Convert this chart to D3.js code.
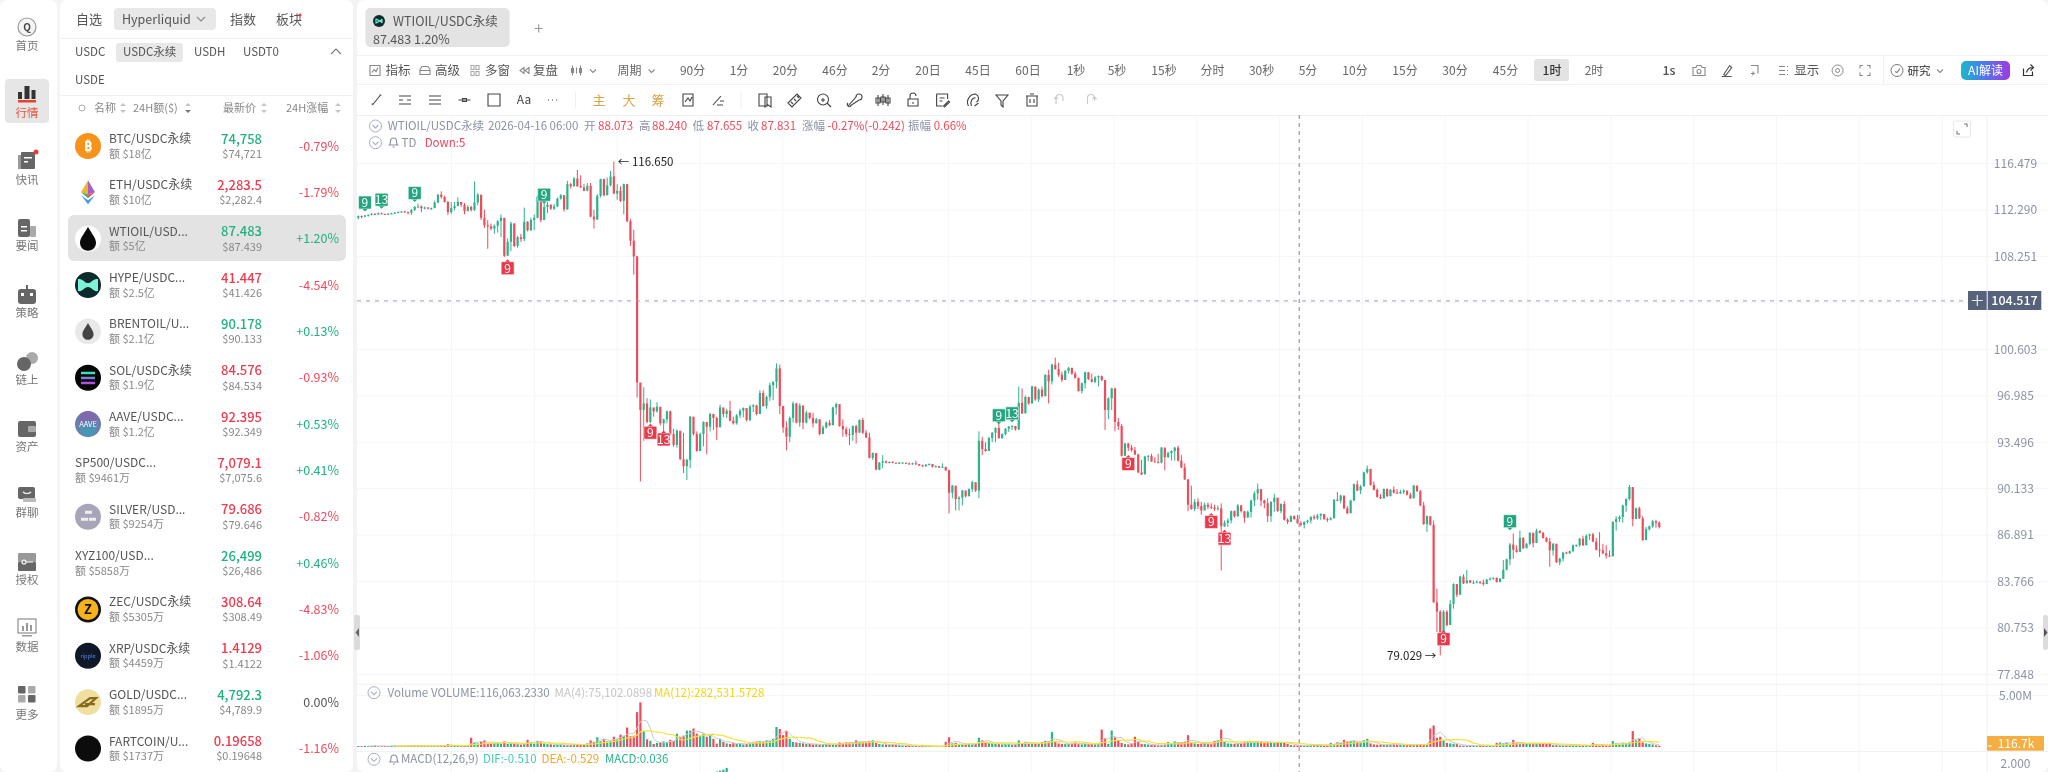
<!DOCTYPE html>
<html>
<head>
<meta charset="utf-8">
<script src="https://cdn.jsdelivr.net/npm/d3@7"></script>
<style>
  html, body { margin: 0; padding: 0; background: #f3f3f3; overflow: hidden; }
  svg { display: block; font-family: "Noto Sans CJK SC", "Noto Sans", sans-serif; filter: blur(0.35px); }
</style>
</head>
<body>
<script>
/* Datos de las velas, 1h WTIOIL */
const firstOpen = 111.6;
const closes = [
  111.75,111.7,111.8,111.85,111.95,111.9,112.0,111.95,111.9,111.95,
  112.0,112.05,112.1,112.15,112.1,112.05,112.3,112.55,112.6,112.45,
  112.5,112.4,112.45,112.95,113.65,113.45,113.0,112.1,112.45,112.65,
  113.0,112.75,112.2,112.55,112.3,112.95,113.65,111.6,110.95,110.85,
  110.65,110.9,111.3,111.6,108.3,109.5,111.1,109.15,109.9,109.75,
  111.25,110.5,111.4,111.6,113.5,111.4,112.55,112.75,112.4,112.6,
  113.3,113.6,112.35,114.6,114.4,115.1,114.4,114.3,114.0,114.45,
  111.7,111.45,113.55,115.05,113.6,114.5,115.3,113.75,114.0,113.1,
  114.6,111.3,109.6,108.25,98.0,95.9,96.4,95.0,96.1,95.8,
  96.15,94.9,95.2,95.8,94.1,93.3,94.35,92.25,91.75,92.2,
  95.4,94.1,92.85,94.1,95.0,94.65,95.6,95.3,94.6,96.1,
  95.6,95.85,95.1,94.9,95.5,95.85,96.05,95.15,96.15,96.25,
  95.6,97.2,96.2,96.9,97.8,98.05,99.1,96.2,94.6,93.9,
  95.3,96.4,94.95,96.25,94.95,95.7,95.3,94.9,95.2,94.1,
  94.6,94.95,94.75,96.1,96.35,94.7,94.45,94.1,94.05,94.7,
  94.2,95.15,94.2,93.85,92.35,92.7,91.5,92.0,92.1,92.0,
  92.05,92.0,91.95,92.0,92.0,91.95,91.9,91.95,91.9,91.8,
  91.75,91.85,91.9,91.7,91.75,91.65,91.7,91.45,89.85,90.35,
  89.4,89.5,90.0,89.6,90.1,90.6,90.0,93.6,93.0,92.85,
  93.8,94.2,94.55,93.8,94.1,94.5,94.65,94.7,94.45,96.45,
  95.65,96.9,96.4,97.7,96.7,97.45,96.95,98.6,98.1,99.4,
  99.05,98.6,98.2,98.9,99.15,98.7,98.35,97.35,97.95,98.8,
  98.25,98.05,98.4,98.5,98.2,95.9,96.8,97.55,95.0,94.7,
  92.5,93.4,93.1,92.9,92.6,91.3,91.15,92.45,92.5,92.1,
  92.05,92.0,93.1,92.4,92.7,92.85,93.1,92.15,91.65,90.8,
  89.0,88.7,89.2,88.9,88.6,89.0,88.85,88.8,88.7,88.75,
  87.5,87.75,87.9,88.55,88.2,88.95,88.55,88.1,88.5,89.3,
  89.8,90.1,89.3,89.1,88.2,89.2,89.5,88.55,89.05,87.95,
  87.8,88.2,88.0,87.7,87.6,87.8,87.9,88.15,88.05,88.25,
  88.35,88.0,87.95,88.05,89.35,89.3,89.65,88.75,88.4,89.3,
  90.45,90.0,90.3,91.3,91.55,90.4,90.05,89.55,89.45,90.1,
  89.6,90.05,89.85,89.8,89.9,90.0,89.7,89.45,90.35,89.95,
  88.95,87.65,88.2,87.6,82.4,81.8,80.1,81.8,80.95,82.3,
  83.6,82.9,84.1,83.65,83.85,83.7,83.7,83.75,83.7,83.6,
  83.9,83.95,84.0,83.75,83.95,84.55,85.25,86.25,85.9,85.75,
  86.7,86.0,86.3,87.05,86.35,87.2,87.05,86.7,86.45,85.85,
  86.3,85.05,85.3,85.7,85.65,85.8,86.2,86.2,86.65,86.2,
  86.85,86.95,86.45,85.9,85.85,85.65,85.5,85.45,87.8,88.0,
  88.15,88.95,89.4,90.25,88.0,88.75,88.05,86.55,87.3,87.5,
  87.85,87.75,87.45
];
const highs = [
  111.8,111.8,111.85,111.9,112.0,112.0,112.05,112.05,111.95,112.0,
  112.05,112.1,112.15,112.2,112.2,112.15,112.35,112.65,112.85,112.7,
  112.6,112.55,112.5,113.1,113.7,113.95,113.55,113.1,113.0,113.0,
  113.4,113.0,112.9,112.7,112.65,114.85,113.8,113.6,112.3,111.4,
  111.1,111.0,111.4,111.9,110.9,109.8,111.25,111.1,110.0,110.2,
  112.5,111.3,111.6,111.9,113.6,113.6,112.9,113.0,112.8,112.8,
  113.4,113.7,113.6,114.9,114.7,115.25,115.9,115.4,114.6,114.7,
  114.7,112.3,113.7,115.1,115.1,115.2,115.8,116.65,114.6,114.4,
  114.65,114.4,111.5,110.55,108.3,97.95,97.63,96.8,96.7,95.95,
  96.5,96.0,95.25,95.85,95.85,94.5,94.45,94.05,94.2,92.3,
  95.45,95.3,94.3,94.2,95.05,94.8,95.7,95.5,95.4,96.3,
  96.0,96.0,96.6,95.4,95.6,96.0,96.1,95.9,96.3,96.35,
  96.3,97.4,97.4,97.0,98.0,98.1,99.5,99.4,96.2,95.05,
  95.42,96.55,96.45,96.4,96.1,95.85,95.7,95.7,95.3,95.2,
  94.75,95.05,95.15,96.15,96.45,96.3,95.2,94.65,94.5,94.75,
  94.8,95.2,95.3,94.4,94.2,92.75,92.6,92.05,92.55,92.15,
  92.1,92.1,92.0,92.05,92.05,92.0,92.0,92.0,92.15,91.9,
  91.85,91.9,91.95,91.9,91.8,91.75,91.95,91.65,91.5,90.4,
  89.9,89.6,90.05,90.0,90.15,90.7,90.4,94.3,93.9,93.5,
  93.9,94.25,94.6,94.9,94.15,94.55,94.7,94.75,94.7,97.7,
  97.55,97.0,96.85,97.75,97.65,97.55,97.7,98.65,99.0,99.45,
  99.95,99.55,98.85,98.98,99.2,99.05,98.85,98.4,98.0,98.85,
  98.8,98.7,98.5,98.55,98.55,98.2,96.85,97.6,97.6,95.3,
  94.85,93.45,93.45,93.3,93.15,92.65,92.2,92.5,92.55,92.65,
  92.4,92.65,93.15,93.1,92.8,92.9,93.15,93.25,92.55,91.95,
  90.8,90.35,89.4,89.45,89.2,89.15,89.15,89.1,89.0,88.95,
  89.1,87.9,88.05,88.6,88.6,89.05,89.0,88.55,88.6,89.35,
  89.95,90.5,90.1,89.35,89.45,89.25,89.78,89.3,89.1,89.25,
  88.05,88.25,88.25,88.3,87.85,87.85,87.95,88.2,88.3,88.35,
  88.4,88.3,88.1,88.15,89.4,89.9,89.7,89.55,88.9,89.35,
  90.5,90.72,90.4,91.35,91.8,91.55,90.65,90.15,89.75,90.15,
  90.15,90.1,90.3,90.1,90.05,90.1,89.95,89.85,90.4,90.35,
  90.05,89.2,88.25,88.1,87.9,83.3,81.9,81.9,81.9,82.55,
  83.65,83.5,84.15,84.25,84.55,83.85,83.85,83.85,83.8,83.9,
  83.95,84.05,84.05,84.05,84.0,85.2,85.3,86.35,87.0,86.2,
  87.2,86.75,86.35,87.1,87.05,87.33,87.2,87.1,86.75,86.7,
  86.35,86.3,85.35,85.75,85.77,85.85,86.25,86.25,86.7,86.85,
  86.95,87.0,87.05,86.7,87.1,86.3,86.2,85.85,87.85,88.2,
  88.25,89.0,89.45,90.4,90.2,88.8,88.85,88.2,87.45,87.55,
  87.95,87.95,87.85
];
const lows = [
  111.45,111.55,111.65,111.7,111.8,111.85,111.85,111.9,111.85,111.85,
  111.9,111.95,112.0,112.05,112.05,111.9,111.85,112.2,112.45,112.1,
  112.35,112.35,112.3,112.55,112.9,113.3,112.95,111.85,111.95,112.25,
  112.6,112.55,111.9,112.15,112.15,112.2,112.7,111.4,110.7,108.9,
  110.5,110.2,110.3,109.9,108.2,108.55,108.7,109.05,109.0,109.5,
  109.55,110.4,110.45,110.5,111.55,111.2,111.4,112.0,112.3,112.3,
  112.55,113.2,112.15,112.3,114.2,114.4,114.35,114.25,113.95,113.95,
  111.65,110.65,111.4,113.4,113.5,113.6,114.4,113.7,113.2,113.0,
  111.9,111.2,109.15,106.7,96.85,90.65,93.6,94.9,94.9,95.4,
  95.7,94.75,94.3,94.9,94.05,93.15,93.1,92.2,91.25,90.75,
  91.6,94.0,92.8,93.3,93.2,92.6,94.3,94.4,93.65,94.7,
  95.35,95.3,95.05,94.8,94.8,95.3,95.35,95.05,95.05,95.75,
  95.5,95.75,96.15,96.0,96.6,96.65,97.55,95.6,94.2,92.9,
  93.5,94.95,94.9,94.65,94.45,94.9,95.2,94.6,94.9,94.0,
  94.1,94.5,94.7,94.9,95.55,94.65,93.9,93.9,93.28,93.6,
  93.4,94.2,94.1,93.8,92.3,92.2,91.45,91.45,91.6,91.95,
  91.95,91.95,91.9,91.9,91.95,91.9,91.85,91.85,91.85,91.75,
  91.7,91.7,91.8,91.65,91.65,91.6,91.6,91.4,88.4,89.45,
  88.6,88.6,88.95,89.5,89.6,89.9,89.9,89.45,92.55,92.8,
  92.85,93.5,93.5,93.75,93.75,94.0,94.25,94.4,94.35,94.4,
  95.6,95.65,96.3,96.4,96.6,96.5,96.85,96.95,96.4,97.85,
  99.0,98.45,98.05,98.2,98.7,98.6,98.3,97.3,97.15,97.55,
  98.2,98.0,97.95,97.7,98.1,94.4,95.2,95.9,94.3,94.4,
  92.45,92.5,92.85,92.8,92.55,91.25,91.1,91.2,92.1,92.05,
  92.0,91.95,91.95,91.45,92.35,92.15,92.15,92.1,91.6,90.75,
  88.55,88.65,88.55,88.7,88.3,88.6,88.7,88.7,88.55,88.6,
  84.5,87.45,87.45,87.7,88.1,88.15,88.45,87.75,88.1,88.1,
  88.9,89.35,88.9,88.75,87.8,87.8,88.5,88.5,88.4,87.9,
  87.65,87.8,87.95,87.7,87.5,87.35,87.7,87.7,87.95,87.95,
  87.95,87.95,87.8,87.9,88.05,89.25,89.1,88.7,88.35,88.45,
  89.25,89.95,89.75,90.3,91.2,90.35,90.0,89.5,89.4,89.45,
  89.55,89.6,89.8,89.75,89.75,89.75,89.65,89.4,89.45,89.9,
  88.9,87.6,87.1,87.55,82.4,80.5,79.03,80.1,80.85,80.95,
  82.0,82.75,82.9,83.6,83.65,83.65,83.6,83.65,83.6,83.5,
  83.6,83.85,83.9,83.7,83.7,83.95,84.5,84.85,85.3,85.7,
  85.75,85.95,86.0,86.2,86.05,86.35,87.0,86.65,86.4,84.75,
  85.5,85.0,84.85,85.1,85.6,85.6,85.75,86.1,86.1,86.15,
  86.2,86.55,86.4,85.85,85.4,85.6,85.3,85.4,85.45,87.2,
  87.8,87.75,88.5,89.3,87.5,88.0,88.0,86.5,86.55,87.2,
  87.4,87.4,87.35
];
const volumes = [
  100,80,120,90,100,130,90,80,100,90,
  110,120,80,100,90,110,130,150,120,100,
  110,90,120,100,140,170,150,280,150,120,
  100,110,130,120,900,450,350,500,650,400,
  350,380,400,300,550,300,350,300,280,250,
  320,700,450,300,600,550,350,280,260,220,
  200,240,180,180,200,250,280,200,240,350,
  650,500,950,550,800,550,600,1000,800,1200,
  1100,1900,1050,1100,3400,4350,1550,750,600,300,
  400,450,550,450,700,600,1300,1000,1100,1600,
  1600,1800,1300,1100,1300,1000,1150,800,330,800,
  500,350,300,400,300,350,250,300,400,500,
  550,600,500,650,600,800,1950,1750,1150,1550,
  800,500,450,400,350,300,300,250,280,250,
  260,280,250,260,280,450,400,450,420,450,
  650,500,480,500,600,650,400,300,260,250,
  240,220,200,180,150,130,100,100,110,90,
  100,90,80,60,40,60,80,500,950,350,
  400,300,280,260,320,260,300,900,650,500,
  400,350,300,280,260,300,280,220,260,650,
  320,500,400,380,350,300,500,600,550,1450,
  500,350,300,280,300,320,450,280,260,300,
  300,320,280,300,1700,850,300,1600,1000,700,
  400,300,250,350,1000,500,300,280,250,200,
  180,160,200,220,500,300,550,400,450,500,
  1150,400,350,300,320,350,300,280,600,650,
  1700,500,350,320,300,350,400,450,500,400,
  450,520,550,450,500,400,380,500,450,420,
  300,200,150,160,170,150,140,130,180,260,
  200,160,170,400,300,450,400,700,500,600,
  600,500,450,650,800,350,250,220,240,200,
  210,230,250,220,200,190,220,240,210,230,
  250,230,300,1800,2100,900,1000,650,400,350,
  320,280,150,130,120,130,140,120,130,110,
  130,150,120,400,450,380,420,300,700,400,
  350,320,330,300,320,350,330,320,350,390,
  180,170,150,160,170,150,160,140,150,170,
  150,160,400,250,150,180,200,170,580,400,
  300,350,380,450,1550,650,800,450,350,300,
  250,150,116.7
];

/* Etiquetas de los ejes */
const priceTicks = [116.479,112.290,108.251,104.358,100.603,96.985,93.496,90.133,86.891,83.766,80.753,77.848];
const priceLabels = ["116.479","112.290","108.251","","100.603","96.985","93.496","90.133","86.891","83.766","80.753","77.848"];
const gridIdx = d3.range(28.1, 490, 24.95);

/* Marcas TD: indice de vela, texto, precio donde se centra, lado */
const tdIndex = [2,7,17,56,45,88,92,193,197,232,257,261,327,347];
const tdText = ["9","13","9","9","9","9","13","9","13","9","9","13","9","9"];
const tdPrice = [112.95,113.2,113.8,113.65,107.25,94.2,93.7,95.5,95.65,91.9,87.8,86.65,80.05,87.85];
const tdUp = [1,1,1,1,0,0,0,1,1,0,0,0,0,1];

/* Histograma MACD que asoma por abajo */
const macdIdx = [107,108,109,110,111];
const macdVals = [1.45,1.55,1.6,1.65,1.75];

/* Lista de la izquierda */
const coinNames = ["BTC/USDC永续","ETH/USDC永续","WTIOIL/USD...","HYPE/USDC...","BRENTOIL/U...","SOL/USDC永续","AAVE/USDC...","SP500/USDC...","SILVER/USD...","XYZ100/USD...","ZEC/USDC永续","XRP/USDC永续","GOLD/USDC...","FARTCOIN/U..."];
const coinVols = ["额 $18亿","额 $10亿","额 $5亿","额 $2.5亿","额 $2.1亿","额 $1.9亿","额 $1.2亿","额 $9461万","额 $9254万","额 $5858万","额 $5305万","额 $4459万","额 $1895万","额 $1737万"];
const coinPrices = ["74,758","2,283.5","87.483","41.447","90.178","84.576","92.395","7,079.1","79.686","26,499","308.64","1.4129","4,792.3","0.19658"];
const coinPriceUp = [1,0,1,0,1,0,0,0,0,1,0,0,1,0];
const coinUsd = ["$74,721","$2,282.4","$87.439","$41.426","$90.133","$84.534","$92.349","$7,075.6","$79.646","$26,486","$308.49","$1.4122","$4,789.9","$0.19648"];
const coinChanges = ["-0.79%","-1.79%","+1.20%","-4.54%","+0.13%","-0.93%","+0.53%","+0.41%","-0.82%","+0.46%","-4.83%","-1.06%","0.00%","-1.16%"];
const navNames = ["首页","行情","快讯","要闻","策略","链上","资产","群聊","授权","数据","更多"];
const periods = ["90分","1分","20分","46分","2分","20日","45日","60日","1秒","5秒","15秒","分时","30秒","5分","10分","15分","30分","45分","1时","2时"];
const periodX = [692.6,739,785.4,835,881,928,978,1028,1076,1117,1164,1212.5,1261.6,1308,1355,1405,1455,1505.5,1552,1594];

const GREEN = "#2bb48b", RED = "#ef4b5b", GRID = "#f5f6f8", GREY = "#8b92a3";

let svg = d3.select("body").append("svg").attr("width", 2048).attr("height", 772);

function label(parent, x, y, str, size, color, anchor, weight) {
  return parent.append("text")
    .attr("x", x).attr("y", y).attr("dy", "0.36em")
    .attr("font-size", size).attr("fill", color)
    .attr("text-anchor", anchor || "start")
    .attr("font-weight", weight || 400)
    .text(str);
}
function box(parent, x, y, w, h, fill, r) {
  return parent.append("rect").attr("x", x).attr("y", y).attr("width", w).attr("height", h)
    .attr("fill", fill).attr("rx", r || 0);
}
function hline(parent, x1, x2, y, color) {
  parent.append("line").attr("x1", x1).attr("x2", x2).attr("y1", y).attr("y2", y).attr("stroke", color);
}
function glyph(parent, x, y, d, color, w) {
  parent.append("path").attr("transform", "translate(" + x + "," + y + ")")
    .attr("d", d).attr("fill", "none").attr("stroke", color || "#555").attr("stroke-width", w || 1.1);
}
function chevronCircle(parent, x, y) {
  parent.append("circle").attr("cx", x).attr("cy", y).attr("r", 6).attr("fill", "none").attr("stroke", "#a9afbd");
  glyph(parent, x, y, "M-3,-1L0,2L3,-1", "#a9afbd");
}
function bell(parent, x, y) {
  glyph(parent, x, y, "M-4,3C-3,2 -3,0 -3,-1C-3,-5 3,-5 3,-1C3,0 3,2 4,3ZM-1,5L1,5", "#8b92a3");
}

/* Paneles blancos */
box(svg, 0, 0, 57, 772, "#fff", 7);
box(svg, 60, 0, 293, 772, "#fff", 7);
box(svg, 357, 0, 1691, 772, "#fff", 7);

/* Barra de navegacion */
let nav = svg.append("g");
box(nav, 5, 79, 44, 44, "#e6e6e6", 4);
const navIconY = [27,93,161,228,295,362,429,495,562,628,695];
const navLabelY = [46,113,180,246,313,380,447,513,580,647,715];
navNames.forEach(function (n, i) {
  label(nav, 27, navLabelY[i], n, 11.5, i === 1 ? "#e8553f" : "#777", "middle");
  let y = navIconY[i];
  if (i === 0) {
    nav.append("circle").attr("cx", 27).attr("cy", y).attr("r", 9).attr("fill", "#f4f4f4").attr("stroke", "#999").attr("stroke-width", 1.2);
    label(nav, 27, y, "Q", 10, "#444", "middle", 700);
  } else if (i === 1) {
    box(nav, 18, y - 1, 4, 7, "#333"); box(nav, 24.5, y - 7, 5, 13, "#333"); box(nav, 31.5, y - 3, 4, 9, "#333");
    box(nav, 18, y + 7, 18, 2.5, "#e8412f");
  } else if (i === 2) {
    box(nav, 18, y - 6, 6, 14, "#999"); box(nav, 21, y - 9, 14, 17, "#666", 1);
    box(nav, 24, y - 4, 8, 1.5, "#fff"); box(nav, 24, y, 4, 1.5, "#fff");
    nav.append("circle").attr("cx", 36).attr("cy", y - 9).attr("r", 2.5).attr("fill", "#ef3b3b");
  } else if (i === 3) {
    box(nav, 18, y - 9, 12, 18, "#666", 2); box(nav, 30, y - 2, 6, 11, "#aaa", 1);
    box(nav, 21, y - 2, 6, 1.5, "#fff"); box(nav, 21, y + 2, 6, 1.5, "#fff");
  } else if (i === 4) {
    box(nav, 18, y - 6, 18, 15, "#666", 3); box(nav, 26, y - 10, 2, 4, "#666");
    box(nav, 21, y - 2, 3, 3, "#fff"); box(nav, 30, y - 2, 3, 3, "#fff");
  } else if (i === 5) {
    nav.append("circle").attr("cx", 32).attr("cy", y - 4).attr("r", 6).attr("fill", "#aaa");
    nav.append("circle").attr("cx", 24).attr("cy", y + 2).attr("r", 7).attr("fill", "#666");
  } else if (i === 6) {
    box(nav, 18, y - 8, 18, 16, "#666", 2); box(nav, 28, y - 3, 8, 6, "#aaa", 1);
  } else if (i === 7) {
    box(nav, 18, y - 8, 17, 12, "#666", 2); box(nav, 23, y + 3, 13, 4, "#bbb", 1);
    glyph(nav, 27, y - 3, "M-4,0C-2,2 2,2 4,0", "#fff");
  } else if (i === 8) {
    box(nav, 18, y - 9, 18, 9, "#999", 1); box(nav, 18, y, 18, 9, "#666", 1);
    glyph(nav, 24, y, "M-2,0A2,2 0 1 1 2,0A2,2 0 1 1 -2,0M2,0L9,0", "#fff");
  } else if (i === 9) {
    nav.append("rect").attr("x", 18).attr("y", y - 9).attr("width", 18).attr("height", 14).attr("fill", "#fff").attr("stroke", "#777");
    box(nav, 22, y - 2, 2, 5, "#999"); box(nav, 26, y - 5, 2, 8, "#999"); box(nav, 30, y - 3, 2, 6, "#999");
    box(nav, 22, y + 7, 10, 1.5, "#999");
  } else {
    box(nav, 18, y - 9, 7.5, 7.5, "#666", 1); box(nav, 28, y - 9, 7.5, 7.5, "#aaa", 1);
    box(nav, 18, y, 7.5, 7.5, "#aaa", 1); box(nav, 28, y, 7.5, 7.5, "#666", 1);
  }
});

/* Panel de lista */
let list = svg.append("g");
label(list, 76, 19, "自选", 13, "#555");
box(list, 114, 8, 102, 22, "#e8e8e8", 4);
label(list, 122, 19, "Hyperliquid", 12.5, "#555");
glyph(list, 201, 19, "M-4,-2L0,2L4,-2", "#888");
label(list, 230, 19, "指数", 13, "#555");
label(list, 276, 19, "板块", 13, "#555");
list.append("circle").attr("cx", 300).attr("cy", 15).attr("r", 1.5).attr("fill", "#ef3b3b");
hline(list, 60, 353, 38.5, "#f0f0f0");
label(list, 75, 52, "USDC", 11.5, "#555");
box(list, 116, 43, 67, 19, "#e8e8e8", 3);
label(list, 123, 52, "USDC永续", 11.5, "#555");
label(list, 194, 52, "USDH", 11.5, "#555");
label(list, 243, 52, "USDT0", 11.5, "#555");
glyph(list, 336, 52, "M-5,2L0,-3L5,2", "#777");
label(list, 75, 80, "USDE", 11.5, "#555");
hline(list, 60, 353, 95.5, "#f0f0f0");
list.append("circle").attr("cx", 82).attr("cy", 108).attr("r", 3).attr("fill", "none").attr("stroke", "#aaa");
label(list, 94, 108, "名称", 11, "#888");
label(list, 133, 108, "24H额($)", 11, "#888");
label(list, 223, 108, "最新价", 11, "#888");
label(list, 286, 108, "24H涨幅", 11, "#888");
[123, 188, 264, 338].forEach(function (x) {
  list.append("path").attr("d", "M" + (x - 3) + ",106L" + x + ",103L" + (x + 3) + ",106Z").attr("fill", "#c4c4c4");
  list.append("path").attr("d", "M" + (x - 3) + ",110L" + x + ",113L" + (x + 3) + ",110Z").attr("fill", x === 188 ? "#777" : "#c4c4c4");
});
box(list, 68, 215, 278, 46, "#e3e3e3", 6);

const rowY = d3.scaleLinear().domain([0, 13]).range([146, 748.5]);
coinNames.forEach(function (n, i) {
  let y = rowY(i);
  let noIcon = (i === 7 || i === 9);
  let nameX = noIcon ? 75 : 109;
  label(list, nameX, y - 7.3, n, 12, "#555");
  label(list, nameX, y + 7.7, coinVols[i], 11, "#888");
  label(list, 262, y - 7, coinPrices[i], 13, coinPriceUp[i] ? "#1fb27f" : "#ef3b4e", "end", 500);
  label(list, 262, y + 8, coinUsd[i], 11, "#888", "end");
  let ch = coinChanges[i];
  label(list, 339, y, ch, 12.5, ch[0] === "+" ? "#1fb27f" : ch[0] === "-" ? "#ef4b5b" : "#555", "end");
  if (!noIcon) coinIcon(list, 88, y, i);
});

function coinIcon(p, x, y, i) {
  const fills = ["#f7931a", "none", "#fff", "#0c2b2b", "#e9e9e9", "#050505", "#6a7fb0", null, "#a9a5b8", null, "#111", "#0f1728", "#efe0a0", "#0c0c0c"];
  if (fills[i] !== "none") p.append("circle").attr("cx", x).attr("cy", y).attr("r", 13).attr("fill", fills[i]);
  if (i === 0) label(p, x, y, "₿", 15, "#fff", "middle", 700);
  if (i === 1) {
    p.append("path").attr("d", d3.line()([[x, y - 12], [x - 7, y], [x, y + 2]])).attr("fill", "#f0b429");
    p.append("path").attr("d", d3.line()([[x, y - 12], [x + 7, y], [x, y + 2]])).attr("fill", "#a45fc9");
    p.append("path").attr("d", d3.line()([[x - 7, y], [x, y + 2], [x, y + 6]])).attr("fill", "#4caf6e");
    p.append("path").attr("d", d3.line()([[x + 7, y], [x, y + 2], [x, y + 6]])).attr("fill", "#e25c5c");
    p.append("path").attr("d", d3.line()([[x - 7, y + 3], [x, y + 12], [x + 7, y + 3], [x, y + 8]])).attr("fill", "#3f9fe0");
  }
  if (i === 2 || i === 4) {
    let s = i === 2 ? 1 : 0.7;
    p.append("path").attr("transform", "translate(" + x + "," + y + ") scale(" + s + ")")
      .attr("d", "M0,-12C3,-6 8,-1 8,4C8,9 4,12 0,12C-4,12 -8,9 -8,4C-8,-1 -3,-6 0,-12Z")
      .attr("fill", i === 2 ? "#0a0a0a" : "#444");
  }
  if (i === 3) {
    p.append("path").attr("transform", "translate(" + x + "," + y + ")")
      .attr("d", "M-10,-6C-5,-7 -4,-2 0,-2C4,-2 5,-7 10,-6L10,6C5,7 4,2 0,2C-4,2 -5,7 -10,6Z")
      .attr("fill", "#7ff3d8");
  }
  if (i === 5) {
    box(p, x - 7, y - 6, 14, 2.5, "#38e2b5"); box(p, x - 7, y - 1, 14, 2.5, "#7a7fe0"); box(p, x - 7, y + 4, 14, 2.5, "#b24fe0");
  }
  if (i === 6) {
    p.append("circle").attr("cx", x).attr("cy", y - 4).attr("r", 9).attr("fill", "#8a5aa8").attr("opacity", 0.6);
    p.append("circle").attr("cx", x).attr("cy", y + 5).attr("r", 8).attr("fill", "#32a3b8").attr("opacity", 0.6);
    label(p, x, y, "AAVE", 7.5, "#fff", "middle");
  }
  if (i === 8) {
    box(p, x - 3, y - 6, 7, 3, "#eee"); box(p, x - 7, y + 1, 7, 3, "#eee"); box(p, x + 1, y + 1, 7, 3, "#eee");
  }
  if (i === 10) {
    p.append("circle").attr("cx", x).attr("cy", y).attr("r", 10.5).attr("fill", "#f5b21a");
    label(p, x, y, "Z", 13, "#111", "middle", 700);
  }
  if (i === 11) label(p, x, y, "ripple", 5.5, "#4a8fe8", "middle");
  if (i === 12) glyph(p, x, y, "M-9,4L2,-4L8,-4L-1,4ZM-3,2L7,2", "#8a6a1e", 2.2);
}

/* Pestana superior */
let bar = svg.append("g");
box(bar, 365.4, 8, 144.2, 39, "#e3e3e3", 5);
bar.append("circle").attr("cx", 379).attr("cy", 21).attr("r", 6).attr("fill", "#0c2b2b");
glyph(bar, 379, 21, "M-3,-2C-1,-2 1,2 3,-2L3,2C1,-2 -1,2 -3,2Z", "#6ff0d4", 1.2);
label(bar, 393, 21, "WTIOIL/USDC永续", 12.5, "#555");
label(bar, 373, 39, "87.483  1.20%", 12.5, "#555");
label(bar, 538.6, 28, "+", 16, "#999", "middle");
hline(bar, 357, 2048, 55.5, "#f2f2f2");
hline(bar, 357, 2048, 84.5, "#f2f2f2");
hline(bar, 357, 2048, 115.5, "#f0f0f0");

/* Fila de periodos */
box(bar, 1534, 59, 35, 22, "#e3e3e3", 3);
periods.forEach(function (p, i) {
  label(bar, periodX[i], 70.5, p, 12, p === "1时" ? "#333" : "#666", "middle", p === "1时" ? 500 : 400);
});
label(bar, 385.4, 70.5, "指标", 12.5, "#555");
label(bar, 435, 70.5, "高级", 12.5, "#555");
label(bar, 485, 70.5, "多窗", 12.5, "#555");
label(bar, 533, 70.5, "复盘", 12.5, "#555");
label(bar, 617.6, 70.5, "周期", 12, "#666");
glyph(bar, 375, 70.5, "M-5,-5H5V5H-5ZM-3,2L-1,-1L1,1L3,-3", "#888");
glyph(bar, 425, 70.5, "M-5,4H5V-1L3,-4H-3L-5,-1ZM-5,0H5", "#888");
glyph(bar, 475, 70.5, "M-4,-5H-1V-1H-4ZM-4,1H-1V5H-4ZM1,-5H4V-1H1ZM1,1H4V5H1Z", "#aaa");
glyph(bar, 525, 70.5, "M-1,-3L-5,0L-1,3ZM4,-3L0,0L4,3Z", "#888");
glyph(bar, 576.5, 70.5, "M-4,-5V5M0,-3V3M4,-5V5M-5,-2H-3V2H-5ZM3,-2H5V2H3Z", "#888");
glyph(bar, 593, 70.5, "M-3,-1L0,2L3,-1", "#888");
glyph(bar, 651.6, 70.5, "M-3,-1L0,2L3,-1", "#888");
label(bar, 1669, 70.5, "1s", 12.5, "#555", "middle", 500);
glyph(bar, 1699, 70.5, "M-6,-3H-3L-2,-5H2L3,-3H6V5H-6ZM-2,1A2,2 0 1 0 2,1A2,2 0 1 0 -2,1", "#888");
glyph(bar, 1726.7, 70.5, "M-3,4L3,-5L5,-3L-1,5ZM-5,6H5", "#555");
glyph(bar, 1754, 70.5, "M-3,-5H4V3M-1,5L-1,1M-3,3L1,3", "#888");
glyph(bar, 1783, 70.5, "M-4,-4H2M-4,0H2M-4,4H2M4,-4H5M4,0H5M4,4H5", "#888");
label(bar, 1806.7, 70.5, "显示", 12.5, "#555", "middle");
bar.append("circle").attr("cx", 1837.6).attr("cy", 70.5).attr("r", 5.5).attr("fill", "none").attr("stroke", "#888");
bar.append("circle").attr("cx", 1837.6).attr("cy", 70.5).attr("r", 2).attr("fill", "none").attr("stroke", "#888");
glyph(bar, 1865, 70.5, "M-5,-2V-5H-2M2,-5H5V-2M5,2V5H2M-2,5H-5V2", "#888");
bar.append("line").attr("x1", 1883.5).attr("x2", 1883.5).attr("y1", 55).attr("y2", 84).attr("stroke", "#f0f0f0");
bar.append("circle").attr("cx", 1897).attr("cy", 70.5).attr("r", 6).attr("fill", "none").attr("stroke", "#777");
glyph(bar, 1897, 70.5, "M-2,1L0,2L3,-2", "#777");
label(bar, 1919, 70.5, "研究", 11.5, "#555", "middle", 500);
glyph(bar, 1940, 70.5, "M-3,-1L0,2L3,-1", "#888");
let aiGrad = svg.append("defs").append("linearGradient").attr("id", "aiGrad");
aiGrad.append("stop").attr("offset", "0%").attr("stop-color", "#1db8c8");
aiGrad.append("stop").attr("offset", "45%").attr("stop-color", "#4a7af0");
aiGrad.append("stop").attr("offset", "100%").attr("stop-color", "#a03ae0");
box(bar, 1961, 61, 49, 19, "url(#aiGrad)", 5);
label(bar, 1985.5, 70.5, "AI解读", 12, "#fff", "middle");
glyph(bar, 2028.5, 70.5, "M-5,-2V5H4V1M-2,2C-1,-2 1,-3 4,-3M2,-6L5,-3L2,0", "#333", 1.2);

/* Fila de herramientas */
const toolX = [376.5,405,435,464.5,494,552,688,718,765,794,824,853,883,913,942.6,972.5,1002,1032];
const toolD = [
  "M-4,5L4,-5M-5,4H-3M3,-5H5",
  "M-6,-4H6M-6,0H-2M2,0H6M-6,4H6",
  "M-6,-4H6M-6,0H6M-6,4H6",
  "M-6,0H6M-2,-1.5H2V1.5H-2Z",
  "M-6,-6H6V6H-6Z",
  "M-4,0H-3M0,0H1M4,0H5",
  "M-5,-6H5V6H-5ZM-3,2L0,-2L2,1L4,-3",
  "M-5,5L3,-4M2,1L6,1M-1,5L5,5",
  "M-6,-6H2V6H-6ZM0,-3H6V7L3,5L0,7Z",
  "M-6,3L3,-6L7,-2L-2,7ZM-3,2L-1,4M0,-1L2,1M3,-4L5,-2",
  "M-1,-6A5.5,5.5 0 1 0 -1,5A5.5,5.5 0 1 0 -1,-6M3,3L7,7M-3,0H1M-1,-2V2",
  "M-5,6L3,-3A3,3 0 1 1 6,0L-3,6M-5,3A2,2 0 1 0 -2,6",
  "M-5,-5V6M0,-6V5M5,-5V6M-7,-2H-3V3H-7ZM-2,-3H2V2H-2ZM3,-2H7V3H3Z",
  "M-5,-1H5V6H-5ZM-3,-1V-4A3,3 0 0 1 3,-4M0,2V4",
  "M-6,-6H5V-1M-6,-6V6H0M1,6L6,1L7,2L2,7ZM-3,-2H2M-3,1H0",
  "M-4,6C-7,1 -3,-6 3,-6C7,-4 7,0 4,2M-1,6C-3,2 0,-3 3,-2M2,6L6,3",
  "M-6,-5H6L1,1V7L-1,5V1Z",
  "M-5,-4V6H5V-4M-6,-4H6M-2,-6H2M-2,-1V3M2,-1V3"
];
toolX.forEach(function (x, i) { glyph(bar, x, 100, toolD[i], "#444"); });
label(bar, 524, 100, "Aa", 12, "#444", "middle");
label(bar, 599, 100, "主", 13, "#d9a441", "middle");
label(bar, 629, 100, "大", 13, "#d9a441", "middle");
label(bar, 658, 100, "筹", 13, "#d9a441", "middle");
[575.5, 741].forEach(function (x) {
  bar.append("line").attr("x1", x).attr("x2", x).attr("y1", 92).attr("y2", 108).attr("stroke", "#eee");
});
glyph(bar, 1060, 100, "M-4,4V-2A3,3 0 0 1 3,-2V1M-6,-1L-4,-3L-2,-1", "#c8c8c8");
glyph(bar, 1091.5, 100, "M-4,4V-2A3,3 0 0 1 3,-2V1M1,-1L3,-3L5,-1", "#c8c8c8");

/* Escalas del grafico */
const x = d3.scaleLinear().domain([0, closes.length - 1]).range([358.3, 1659.3]);
const y = d3.scaleLog().domain([77.848, 116.479]).range([674.5, 163.5]);
const yVol = d3.scaleLinear().domain([0, 5000]).range([747, 695.7]);
const yMacd = d3.scaleLinear().domain([0, 2]).range([800, 763.3]);

/* Rejilla */
let grid = svg.append("g");
gridIdx.forEach(function (i) {
  grid.append("line").attr("x1", x(i)).attr("x2", x(i)).attr("y1", 115).attr("y2", 772).attr("stroke", GRID);
});
priceTicks.forEach(function (t) { hline(grid, 357, 2048, y(t), GRID); });
grid.append("line").attr("x1", 1987).attr("x2", 1987).attr("y1", 115).attr("y2", 772).attr("stroke", "#f0f1f3");
hline(grid, 357, 2048, 684.3, "#f0f1f3");
hline(grid, 357, 2048, yVol(5000), GRID);
hline(grid, 357, 2048, 751.5, "#f0f1f3");

/* Velas */
const candles = closes.map(function (c, i) {
  return { i: i, o: i === 0 ? firstOpen : closes[i - 1], c: c, h: highs[i], l: lows[i], v: volumes[i] };
});
const color = function (d) { return d.c >= d.o ? GREEN : RED; };
let chart = svg.append("g");
chart.selectAll("line.wick").data(candles).join("line").attr("class", "wick")
  .attr("x1", d => x(d.i)).attr("x2", d => x(d.i))
  .attr("y1", d => y(d.h)).attr("y2", d => y(d.l))
  .attr("stroke", color).attr("stroke-width", 1);
chart.selectAll("rect.body").data(candles).join("rect").attr("class", "body")
  .attr("x", d => x(d.i) - 1.1).attr("width", 2.2)
  .attr("y", d => y(Math.max(d.o, d.c)))
  .attr("height", d => Math.max(1, Math.abs(y(d.o) - y(d.c))))
  .attr("fill", color);

/* Maximo y minimo */
const iMax = d3.maxIndex(highs), iMin = d3.minIndex(lows);
label(chart, x(iMax) + 4, y(highs[iMax]), "← " + highs[iMax].toFixed(3), 11.5, "#222");
label(chart, x(iMin) - 4, y(lows[iMin]), "79.029 →", 11.5, "#222", "end");

/* Marcas TD */
tdIndex.forEach(function (idx, k) {
  let cx = x(idx), cy = y(tdPrice[k]), col = tdUp[k] ? "#21a67f" : "#e93a4b";
  let g = chart.append("g");
  g.append("rect").attr("x", cx - 6.5).attr("y", cy - 6.5).attr("width", 13).attr("height", 13).attr("rx", 1)
    .attr("fill", col).attr("stroke", "#fff").attr("stroke-width", 0.6);
  let tip = tdUp[k]
    ? [[cx - 2.5, cy + 6.5], [cx, cy + 9], [cx + 2.5, cy + 6.5]]
    : [[cx - 2.5, cy - 6.5], [cx, cy - 9], [cx + 2.5, cy - 6.5]];
  g.append("path").attr("d", d3.line()(tip)).attr("fill", col);
  label(g, cx, cy, tdText[k], 12, "#fff", "middle");
});

/* Volumen; las medias salen del propio volumen, como dice su leyenda MA(4) y MA(12) */
chart.selectAll("rect.vol").data(candles).join("rect").attr("class", "vol")
  .attr("x", d => x(d.i) - 1.1).attr("width", 2.2)
  .attr("y", d => yVol(d.v)).attr("height", d => yVol(0) - yVol(d.v))
  .attr("fill", color);
function movingAvg(n) {
  return volumes.map(function (v, i) {
    return i < n - 1 ? null : d3.mean(volumes.slice(i - n + 1, i + 1));
  });
}
const volLine = d3.line().defined(d => d !== null).x((d, i) => x(i)).y(d => yVol(d));
chart.append("path").attr("d", volLine(movingAvg(4))).attr("fill", "none").attr("stroke", "#c9c9c9").attr("stroke-width", 1);
chart.append("path").attr("d", volLine(movingAvg(12))).attr("fill", "none").attr("stroke", "#f7e233").attr("stroke-width", 1.2);

/* MACD */
macdIdx.forEach(function (idx, k) {
  box(chart, x(idx) - 1.1, yMacd(macdVals[k]), 2.2, yMacd(0) - yMacd(macdVals[k]), GREEN);
});

/* Leyendas */
let lg = svg.append("g");
function legendRow(py, items) {
  items.forEach(function (it) { label(lg, it[0], py, it[1], it[3] || 11.5, it[2]); });
}
chevronCircle(lg, 375.5, 126);
legendRow(126, [
  [387.7, "WTIOIL/USDC永续", GREY], [488, "2026-04-16 06:00", GREY],
  [584, "开", GREY], [598, "88.073", RED], [639, "高", GREY], [652, "88.240", RED],
  [692.6, "低", GREY], [707, "87.655", RED], [747.5, "收", GREY], [761, "87.831", RED],
  [802, "涨幅", GREY], [827.4, "-0.27%(-0.242)", RED], [908, "振幅", GREY], [933.7, "0.66%", RED]
]);
chevronCircle(lg, 375.5, 142.7);
bell(lg, 393.5, 142);
legendRow(142.7, [[401.5, "TD", GREY], [424.7, "Down:5", "#f0455a"]]);
chevronCircle(lg, 374, 692.7);
legendRow(692.7, [
  [387.6, "Volume", GREY], [431, "VOLUME:116,063.2330", GREY],
  [554.6, "MA(4):75,102.0898", "#c6c6c6"], [654, "MA(12):282,531.5728", "#f2d70c"]
]);
chevronCircle(lg, 374, 759.3);
bell(lg, 394, 759);
legendRow(759.3, [
  [401, "MACD(12,26,9)", GREY], [483, "DIF:-0.510", "#3fcfb0"],
  [541.6, "DEA:-0.529", "#f5a623"], [605, "MACD:0.036", GREEN]
]);

/* Ejes de la derecha */
let axis = svg.append("g");
axis.selectAll("text.p").data(priceTicks).join("text").attr("class", "p")
  .attr("x", 2015.5).attr("y", d => y(d)).attr("dy", "0.36em")
  .attr("text-anchor", "middle").attr("font-size", 12).attr("fill", GREY)
  .text((d, i) => priceLabels[i]);
label(axis, 2015.5, 695.7, "5.00M", 12, GREY, "middle");
box(axis, 1987, 736, 57, 14.7, "#f5ae42");
hline(axis, 1988, 1992, 746, "#fff");
label(axis, 2016, 744, "116.7k", 12, "#fff", "middle");
label(axis, 2015.5, 763.3, "2.000", 12, GREY, "middle");

/* Cruz */
const crossPrice = 104.517, crossIdx = 283.5;
let cross = svg.append("g");
cross.append("line").attr("x1", 357).attr("x2", 1968).attr("y1", y(crossPrice)).attr("y2", y(crossPrice))
  .attr("stroke", "#9aa0ae").attr("stroke-dasharray", "4,5");
cross.append("line").attr("x1", x(crossIdx)).attr("x2", x(crossIdx)).attr("y1", 115).attr("y2", 772)
  .attr("stroke", "#7f8697").attr("stroke-dasharray", "4,4");
box(cross, 1968, 291, 18.7, 19, "#56617a");
glyph(cross, 1977.3, 300.5, "M-5.5,0H5.5M0,-5.5V5.5", "#e8eaee", 1.2);
box(cross, 1987.7, 291, 53.6, 19, "#56617a");
label(cross, 2014.5, 300.5, "104.517", 12.5, "#fff", "middle", 500);

/* Controles sueltos */
cross.append("rect").attr("x", 1953.5).attr("y", 121).attr("width", 17).attr("height", 16).attr("rx", 2)
  .attr("fill", "#fff").attr("stroke", "#e8e8e8");
glyph(cross, 1962, 129, "M2,-5H5V-2M-5,2V5H-2", "#777");
box(svg, 354, 615, 6, 35, "#dcdcdc", 2);
svg.append("path").attr("d", "M359,628L355.5,632.5L359,637Z").attr("fill", "#666");
box(svg, 2043, 615, 5, 35, "#dcdcdc", 2);
svg.append("path").attr("d", "M2044,628L2047.5,632.5L2044,637Z").attr("fill", "#555");
</script>
</body>
</html>
